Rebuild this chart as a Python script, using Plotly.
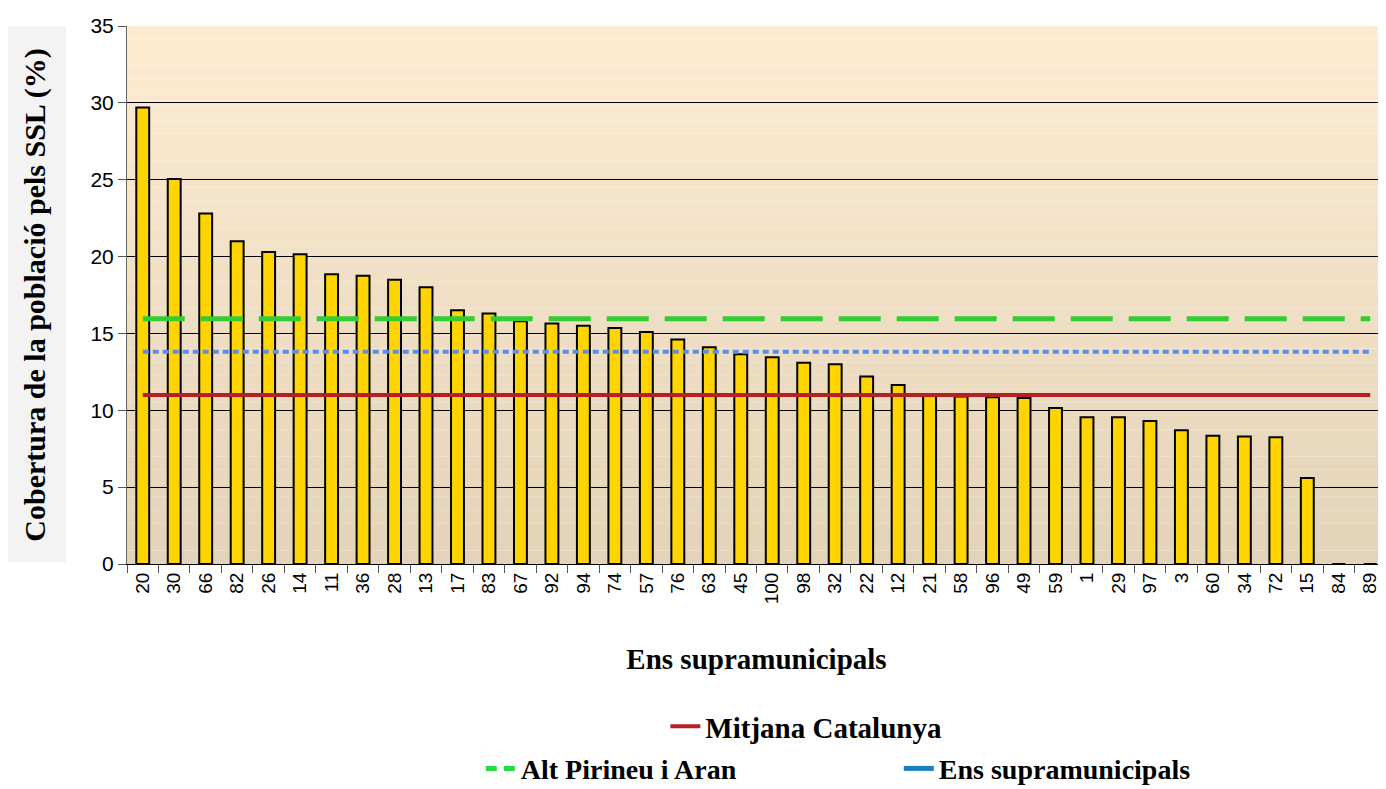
import plotly.graph_objects as go

# data
ens = ['20', '30', '66', '82', '26', '14', '11', '36', '28', '13',
       '17', '83', '67', '92', '94', '74', '57', '76', '63', '45',
       '100', '98', '32', '22', '12', '21', '58', '96', '49', '59',
       '1', '29', '97', '3', '60', '34', '72', '15', '84', '89']
cobertura = [29.7, 25.05, 22.8, 21.0, 20.3, 20.15, 18.85, 18.75, 18.5, 18.0,
             16.5, 16.3, 15.8, 15.65, 15.5, 15.35, 15.1, 14.6, 14.1, 13.65,
             13.45, 13.1, 13.0, 12.2, 11.65, 11.05, 10.9, 10.85, 10.8, 10.15,
             9.55, 9.55, 9.3, 8.7, 8.35, 8.3, 8.25, 5.6, 0.0, 0.0]
mitjana_catalunya = 11.0
alt_pirineu_aran = 15.95
ens_supramunicipals = 13.8

serif = 'Liberation Serif'
sans = 'Liberation Sans'

fig = go.Figure()

n = len(ens)
# reference lines (drawn before the bars so they sit behind them)
fig.add_trace(go.Scatter(
    x=ens, y=[mitjana_catalunya] * n, mode='lines',
    line=dict(color='#b52025', width=4),
    name='<b>Mitjana Catalunya</b>', legend='legend'
))
fig.add_trace(go.Scatter(
    x=ens, y=[alt_pirineu_aran] * n, mode='lines',
    line=dict(color='#33cc33', width=5, dash='42px,16px'),
    showlegend=False
))
fig.add_trace(go.Scatter(
    x=ens, y=[ens_supramunicipals] * n, mode='lines',
    line=dict(color='#5b8def', width=4, dash='6px,4px'),
    showlegend=False
))
# legend entries only (the reference legend draws them differently)
fig.add_trace(go.Scatter(
    x=[None], y=[None], mode='lines',
    line=dict(color='#22dd44', width=5, dash='11px,7px'),
    name='<b>Alt Pirineu i Aran</b>', legend='legend2'
))
fig.add_trace(go.Scatter(
    x=[None], y=[None], mode='lines',
    line=dict(color='#1a7fc0', width=5),
    name='<b>Ens supramunicipals</b>', legend='legend2'
))

fig.add_trace(go.Bar(
    x=ens, y=cobertura,
    marker=dict(color='#ffd400', line=dict(color='black', width=2)),
    showlegend=False
))

# vertical gradient background of the plot area
top = (253, 236, 209)
bot = (227, 211, 185)
steps = 40
for i in range(steps):
    t = i / (steps - 1)
    c = tuple(round(top[k] + (bot[k] - top[k]) * t) for k in range(3))
    fig.add_shape(type='rect', xref='x domain', yref='y domain',
                  x0=0, x1=1, y0=1 - (i + 1) / steps, y1=1 - i / steps,
                  fillcolor='rgb(%d,%d,%d)' % c, line_width=0, layer='below')

# grey box behind the y axis title
fig.add_shape(type='rect', xref='paper', yref='paper',
              x0=-0.0965, x1=-0.0485, y0=0.003, y1=1.0,
              fillcolor='#f3f3f3', line_width=0, layer='below')

# the page body keeps an 8px margin, so the figure is 8px smaller
fig.update_layout(
    width=1378, height=781,
    margin=dict(l=119, r=0, t=18, b=225),
    paper_bgcolor='white',
    plot_bgcolor='rgba(0,0,0,0)',
    bargap=0.59,
    font=dict(family=sans, color='black'),
    xaxis=dict(
        type='category', tickangle=-90, tickson='boundaries',
        ticks='outside', ticklen=8, tickcolor='#555',
        tickfont=dict(family=sans, size=19),
        showline=True, linecolor='black', linewidth=1,
        automargin=False,
        title=dict(text='<b>Ens supramunicipals</b>',
                   font=dict(family=serif, size=29), standoff=45),
    ),
    yaxis=dict(
        range=[0, 35], dtick=5,
        ticks='outside', ticklen=8, tickcolor='#555',
        tickfont=dict(family=sans, size=21),
        showgrid=True, gridcolor='black', gridwidth=1,
        showline=True, linecolor='#666', linewidth=1,
        zeroline=False, automargin=False,
        title=dict(text='<b>Cobertura de la població pels SSL (%)</b>',
                   font=dict(family=serif, size=30), standoff=35),
    ),
    legend=dict(orientation='h', x=0.4276, xanchor='left',
                yref='container', y=0.08, yanchor='middle',
                font=dict(family=serif, size=29),
                bgcolor='rgba(0,0,0,0)'),
    legend2=dict(orientation='h', x=0.281, xanchor='left',
                 yref='container', y=0.026, yanchor='middle',
                 font=dict(family=serif, size=28),
                 bgcolor='rgba(0,0,0,0)', entrywidth=373,
                 entrywidthmode='pixels'),
)

fig.write_html('out.html')
